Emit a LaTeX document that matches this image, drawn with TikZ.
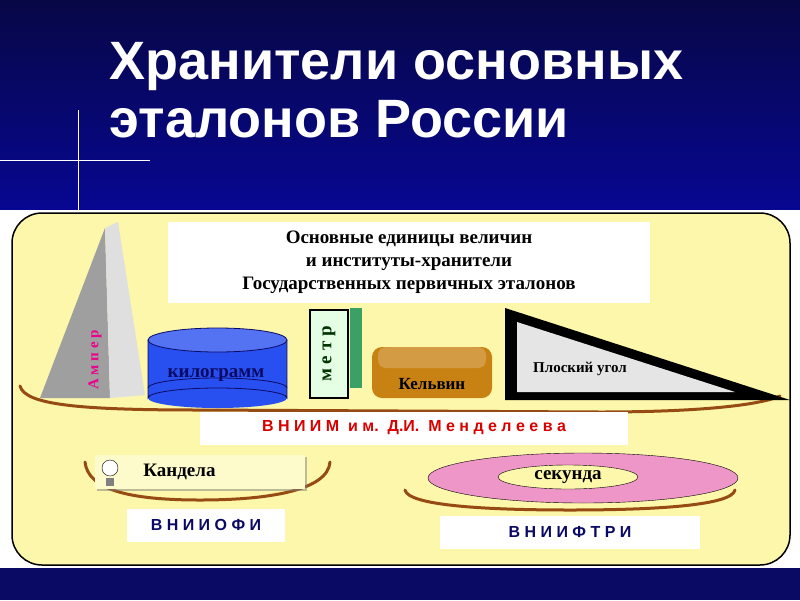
\documentclass[tikz,border=0pt]{standalone}
\usepackage{fontspec}
\setmainfont{Liberation Serif}
\newfontfamily\titlefont{Liberation Sans}
\usetikzlibrary{positioning,shadows}
\definecolor{navy}{RGB}{10,10,100}
\definecolor{panel}{RGB}{252,247,170}
\definecolor{brownarc}{RGB}{150,75,20}
\definecolor{kgblue}{RGB}{40,80,240}
\definecolor{kelvin}{RGB}{200,130,20}
\definecolor{rosa}{RGB}{238,150,200}
\definecolor{metrgreen}{RGB}{60,160,100}
\tikzset{
  inst/.style={fill=white,minimum width=#1,minimum height=33pt,font=\titlefont\bfseries\fontsize{16}{16}\selectfont},
  arc/.style={draw=brownarc,line width=3pt,line cap=round},
  unit/.style={font=\bfseries\fontsize{19}{19}\selectfont}
}
\begin{document}
\begin{tikzpicture}[x=1pt,y=-1pt]
  \useasboundingbox (0,0) rectangle (800,600);
  % background
  \shade[top color=navy!70!black,bottom color=navy!70!blue] (0,0) rectangle (800,210);
  \fill[white] (0,210) rectangle (800,570);
  \fill[navy] (0,568) rectangle (800,600);
  \draw[white!70,thin] (0,160) -- (150,160);
  \draw[white!70,thin] (78,110) -- (78,210);
  \node[anchor=west,text=white,font=\titlefont\bfseries\fontsize{54}{58}\selectfont,align=left] (title) at (106,90) {Хранители основных\\эталонов России};
  % panel
  \draw[fill=panel,line width=1.5pt,rounded corners=30pt] (12,213) rectangle (790,565);
  \node[fill=white,minimum width=482pt,minimum height=81pt,align=center,font=\bfseries\fontsize{19}{23}\selectfont] (head) at (409,262) {Основные единицы величин\\и институты-хранители\\Государственных первичных эталонов};
  % arcs
  \draw[arc] (20,386) .. controls (25,405) and (80,410) .. (200,410) -- (600,412) .. controls (700,412) and (760,405) .. (780,396);
  \draw[arc] (85,462) .. controls (88,490) and (130,500) .. (200,500) .. controls (270,500) and (328,490) .. (330,462);
  \draw[arc] (405,490) .. controls (408,505) and (480,510) .. (570,510) .. controls (660,510) and (732,505) .. (735,490);
  % ampere
  \fill[gray!75] (40,398) -- (105,228) -- (110,398) -- cycle;
  \fill[gray!25] (105,228) -- (118,222) -- (145,395) -- (110,398) -- cycle;
  \node[rotate=90,text=magenta,font=\bfseries\fontsize{15}{15}\selectfont] (amp) at (95,360) {А м п е р};
  % kilogram
  \fill[kgblue] (148,340) rectangle (287,398);
  \fill[kgblue] (217.5,398) ellipse (69.5 and 10);
  \draw[navy,thick] (148,340) -- (148,398) arc (180:360:69.5 and 10) -- (287,340);
  \draw[navy,thick] (148,388) arc (180:360:69.5 and 10);
  \draw[navy,thick,fill=kgblue!80] (217.5,340) ellipse (69.5 and 12);
  \node[unit,text=navy] (kg) at (216,375) {килограмм};
  % metre
  \fill[metrgreen] (350,308) rectangle (362,388);
  \draw[fill=green!10,line width=2pt] (310,310) rectangle (348,398);
  \node[rotate=90,unit,text=black!80!green] (metr) at (329,354) {м е т р};
  % kelvin
  \fill[kelvin,rounded corners=10pt] (372,347) rectangle (492,398);
  \fill[kelvin!80!white,rounded corners=8pt] (378,347) rectangle (486,368);
  \node[unit,font=\bfseries\fontsize{17}{17}\selectfont] (kelv) at (432,384) {Кельвин};
  % plane angle
  \fill[black] (505,308) -- (505,400) -- (790,400) -- cycle;
  \fill[gray!20] (517,322) -- (517,392) -- (735,392) -- cycle;
  \node[font=\bfseries\fontsize{15}{15}\selectfont] (ugol) at (580,369) {Плоский угол};
  % institutes
  \node[inst=428pt,text=red!85!black] (vniim) at (414,428) {В Н И И М\ \ и м.\ \ Д.И.\ \ М е н д е л е е в а};
  \node[fill=panel!60!white,drop shadow,minimum width=210pt,minimum height=34pt] (cand) at (200,472) {};
  \node[unit,right=45pt of cand.west] (candt) {Кандела};
  \draw[fill=white] (110,468) circle (8pt);
  \fill[gray] (106,478) rectangle (114,486);
  \node[inst=158pt,text=navy] (vniiofi) at (206,525) {В Н И И О Ф И};
  \draw[fill=rosa] (583,478) ellipse (155 and 25);
  \draw[fill=panel] (568,477) ellipse (70 and 12);
  \node[unit] (sek) at (568,477) {секунда};
  \node[inst=260pt,text=navy] (vniiftri) at (570,532) {В Н И И Ф Т Р И};
\end{tikzpicture}
\end{document}
